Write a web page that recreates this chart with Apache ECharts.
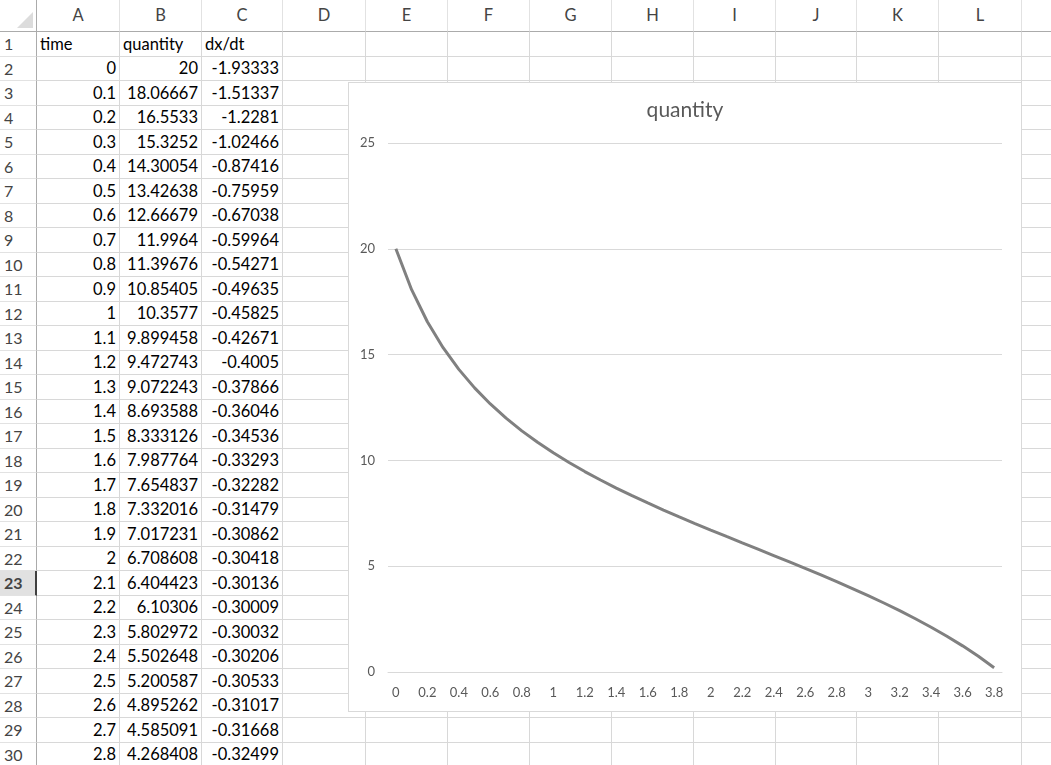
<!DOCTYPE html>
<html>
<head>
<meta charset="utf-8">
<script src="https://cdn.jsdelivr.net/npm/echarts@6/dist/echarts.min.js"></script>
<style>
body { margin: 0; background: #fff; overflow: hidden; font-family: Lato, "Open Sans", sans-serif; }
#sheet { position: absolute; left: 0; top: 0; width: 1051px; height: 765px; overflow: hidden; }
.cell { position: absolute; box-sizing: border-box; border-right: 1px solid #d8d8d8; border-bottom: 1px solid #d8d8d8;
        font-size: 16.5px; color: #000; padding: 0 3px; white-space: nowrap; overflow: hidden; }
.hd { color: #444; text-align: center; font-size: 16.5px; border-color: #e2e2e2; }
.rh { color: #444; font-size: 16px; padding-left: 4px; border-right: 1px solid #ababab; border-bottom-color: #e2e2e2; }
.num { text-align: right; }
#box { position: absolute; left: 348px; top: 82px; width: 674px; height: 630px; box-sizing: border-box;
       border: 1px solid #d9d9d9; background: #fff; }
#chart { width: 672px; height: 628px; }
</style>
</head>
<body>
<div id="sheet"></div>
<div id="box"><div id="chart"></div></div>
<script>
// sheet columns A..C
var time = ['0', '0.1', '0.2', '0.3', '0.4', '0.5', '0.6', '0.7', '0.8', '0.9', '1', '1.1', '1.2', '1.3', '1.4',
            '1.5', '1.6', '1.7', '1.8', '1.9', '2', '2.1', '2.2', '2.3', '2.4', '2.5', '2.6', '2.7', '2.8', '2.9',
            '3', '3.1', '3.2', '3.3', '3.4', '3.5', '3.6', '3.7', '3.8'];
var quantity = [20, 18.06667, 16.5533, 15.3252, 14.30054, 13.42638, 12.66679, 11.9964, 11.39676, 10.85405,
                10.3577, 9.899458, 9.472743, 9.072243, 8.693588, 8.333126, 7.987764, 7.654837, 7.332016, 7.017231,
                6.708608, 6.404423, 6.10306, 5.802972, 5.502648, 5.200587, 4.895262, 4.585091, 4.268408, 3.943418,
                3.6081, 3.2604, 2.8979, 2.5179, 2.1169, 1.6909, 1.2349, 0.7419, 0.2019];
var dxdt = [-1.93333, -1.51337, -1.2281, -1.02466, -0.87416, -0.75959, -0.67038, -0.59964, -0.54271, -0.49635,
            -0.45825, -0.42671, -0.4005, -0.37866, -0.36046, -0.34536, -0.33293, -0.32282, -0.31479, -0.30862,
            -0.30418, -0.30136, -0.30009, -0.30032, -0.30206, -0.30533, -0.31017, -0.31668, -0.32499];
var headers = ['time', 'quantity', 'dx/dt'];
var colLetters = ['A', 'B', 'C', 'D', 'E', 'F', 'G', 'H', 'I', 'J', 'K', 'L', 'M'];
var colEdges = [37, 120, 202, 283, 366, 448, 530, 612, 694, 776, 857, 939, 1022, 1104];

var HEAD_H = 32, ROW_H = 24.5;
var sheet = document.getElementById('sheet');

function addCell(x, y, w, h, text, cls) {
  var d = document.createElement('div');
  d.className = 'cell ' + (cls || '');
  d.style.left = x + 'px';
  d.style.top = y + 'px';
  d.style.width = w + 'px';
  d.style.height = h + 'px';
  d.style.lineHeight = (h - 1) + 'px';
  d.textContent = text;
  sheet.appendChild(d);
  return d;
}

// corner + column headers
var corner = addCell(0, 0, colEdges[0], HEAD_H, '', 'hd');
corner.style.borderBottom = '1px solid #ababab';
corner.style.borderRight = '1px solid #ababab';
corner.innerHTML = '<svg width="36" height="31" style="position:absolute;left:0;top:0">' +
  '<polygon points="33,12 33,28 17,28" fill="#dcdcdc"/></svg>';
for (var c = 0; c < colLetters.length; c++) {
  var h = addCell(colEdges[c], 0, colEdges[c + 1] - colEdges[c], HEAD_H, colLetters[c], 'hd');
  h.style.borderBottom = '1px solid #ababab';
}

// rows
for (var r = 1; r <= 30; r++) {
  var y = Math.round(HEAD_H + (r - 1) * ROW_H);
  var hgt = Math.round(HEAD_H + r * ROW_H) - y;
  var rh = addCell(0, y, colEdges[0], hgt, String(r), 'rh');
  if (r == 23) {
    rh.style.background = '#e1e1e1';
    rh.style.fontWeight = 'bold';
    rh.style.borderRight = '2px solid #404040';
  }
  for (var c = 0; c < colLetters.length; c++) {
    var txt = '', cls = '';
    if (r == 1 && c < 3) {
      txt = headers[c];
    } else if (r > 1 && c < 3) {
      var i = r - 2;
      txt = c == 0 ? time[i] : (c == 1 ? String(quantity[i]) : String(dxdt[i]));
      cls = 'num';
    }
    addCell(colEdges[c], y, colEdges[c + 1] - colEdges[c], hgt, txt, cls);
  }
}

// chart
var chart = echarts.init(document.getElementById('chart'));
chart.setOption({
  animation: false,
  textStyle: { fontFamily: 'Lato, "Open Sans", sans-serif' },
  title: {
    text: 'quantity',
    left: 'center',
    top: 12,
    textStyle: { fontSize: 21, fontWeight: 'normal', color: '#595959', fontFamily: 'Lato, "Open Sans", sans-serif' }
  },
  grid: { left: 39, right: 19, top: 60, bottom: 39, containLabel: false },
  xAxis: {
    type: 'category',
    data: time,
    boundaryGap: true,
    axisLine: { lineStyle: { color: '#d9d9d9', width: 1 } },
    axisTick: { show: false },
    axisLabel: { interval: 1, color: '#595959', fontSize: 13, margin: 14 }
  },
  yAxis: {
    type: 'value',
    min: 0,
    max: 25,
    interval: 5,
    axisLine: { show: false },
    axisTick: { show: false },
    axisLabel: { color: '#595959', fontSize: 13, margin: 13 },
    splitLine: { lineStyle: { color: '#d9d9d9', width: 1 } }
  },
  series: [{
    name: 'quantity',
    type: 'line',
    data: quantity,
    showSymbol: false,
    lineStyle: { color: '#808080', width: 3 },
    itemStyle: { color: '#808080' }
  }]
});
</script>
</body>
</html>
